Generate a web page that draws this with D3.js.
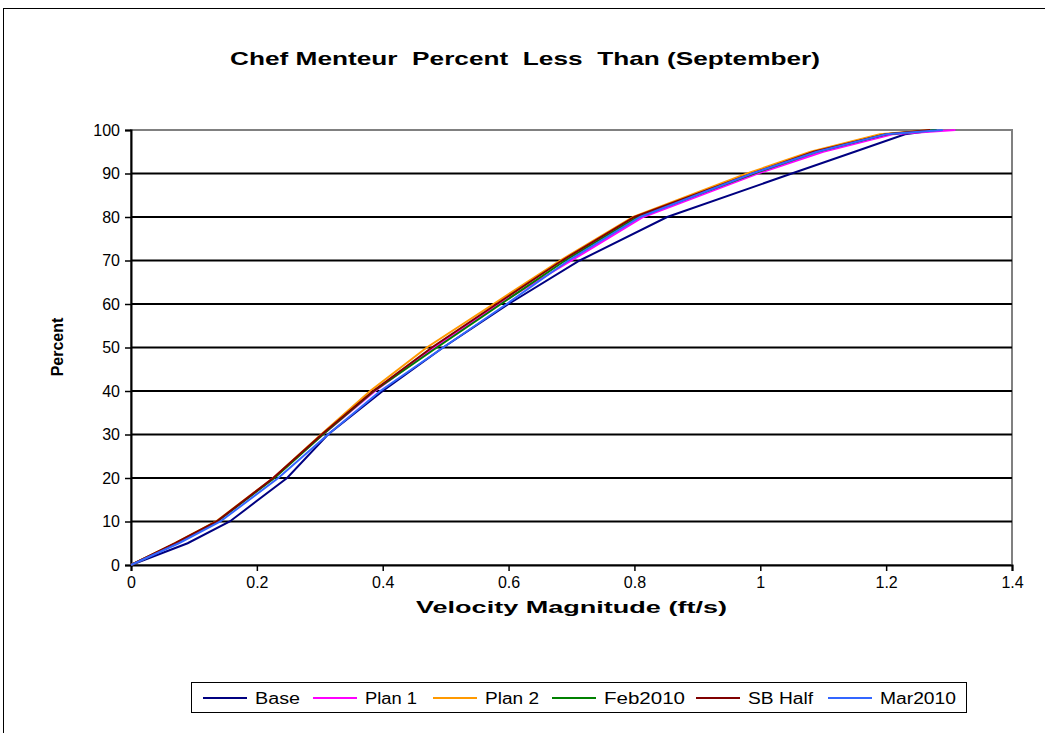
<!DOCTYPE html>
<html><head><meta charset="utf-8">
<script src="https://cdn.jsdelivr.net/npm/d3@7"></script>
<style>body{margin:0;background:#fff;} svg{display:block;font-family:"Liberation Sans",Arial,sans-serif;} text{white-space:pre;}</style>
</head><body><svg id="c" width="1045" height="733"></svg>
<script>
const percents = [0,5,10,20,30,40,50,60,70,80,90,95,99,100];
const baseV   = [0,0.090,0.157,0.248,0.313,0.400,0.496,0.600,0.713,0.852,1.050,1.150,1.230,1.280];
const plan1V  = [0,0.072,0.137,0.226,0.305,0.388,0.482,0.585,0.700,0.814,0.996,1.100,1.210,1.310];
const plan2V  = [0,0.070,0.135,0.226,0.302,0.380,0.470,0.576,0.682,0.798,0.979,1.080,1.190,1.270];
const feb2010V= [0,0.072,0.137,0.228,0.305,0.386,0.486,0.588,0.690,0.805,0.990,1.090,1.200,1.280];
const sbHalfV = [0,0.070,0.136,0.226,0.303,0.385,0.478,0.581,0.685,0.800,0.987,1.085,1.200,1.270];
const mar2010V= [0,0.076,0.142,0.234,0.313,0.396,0.496,0.597,0.695,0.809,0.987,1.090,1.200,1.290];
const seriesNames = ["Base","Plan 1","Plan 2","Feb2010","SB Half","Mar2010"];
const seriesVals = [baseV,plan1V,plan2V,feb2010V,sbHalfV,mar2010V];
const seriesColors = ["#000080","#FF00FF","#FF9900","#008000","#800000","#3366FF"];
const xTicks = [0,0.2,0.4,0.6,0.8,1,1.2,1.4];
const yTicks = [0,10,20,30,40,50,60,70,80,90,100];

const svg = d3.select("#c");
svg.append("rect").attr("x",3.5).attr("y",8.5).attr("width",1050).attr("height",740)
  .attr("fill","#fff").attr("stroke","#000").attr("stroke-width",1);

const L=131,R=1012,T=130,B=565;
const x = d3.scaleLinear().domain([0,1.4]).range([L,R]);
const y = d3.scaleLinear().domain([0,100]).range([B,T]);

svg.append("rect").attr("x",L).attr("y",T).attr("width",R-L).attr("height",B-T)
  .attr("fill","#fff").attr("stroke","#808080").attr("stroke-width",2);
svg.append("g").selectAll("line").data(yTicks.filter(d=>d>0&&d<100)).join("line")
  .attr("x1",L).attr("x2",R).attr("y1",d=>y(d)).attr("y2",d=>y(d))
  .attr("stroke","#000").attr("stroke-width",2);

const yAxis = svg.append("g").attr("transform",`translate(${L},0)`)
  .call(d3.axisLeft(y).tickValues(yTicks).tickSize(6).tickPadding(5).tickFormat(d3.format("d")));
const xAxis = svg.append("g").attr("transform",`translate(0,${B})`)
  .call(d3.axisBottom(x).tickValues(xTicks).tickSize(6).tickPadding(6).tickFormat(d=>String(d)));
[yAxis,xAxis].forEach(a=>{
  a.select(".domain").attr("stroke","#000").attr("stroke-width",2);
  a.selectAll(".tick line").attr("stroke","#000").attr("stroke-width",1.5);
  a.selectAll("text").attr("fill","#000").style("font-size","16px").style("font-family","Liberation Sans, Arial, sans-serif");
});

const line = d3.line().x(d=>x(d[0])).y(d=>y(d[1]));
seriesVals.forEach((vals,i)=>{
  svg.append("path").datum(vals.map((v,j)=>[v,percents[j]]))
    .attr("d",line).attr("fill","none").attr("stroke",seriesColors[i]).attr("stroke-width",2);
});

svg.append("text").attr("x",230).attr("y",65)
  .attr("textLength",590).attr("lengthAdjust","spacingAndGlyphs")
  .style("font-weight","bold").style("font-size","19px").text("Chef Menteur  Percent  Less  Than (September)");
svg.append("text").attr("x",416).attr("y",613)
  .attr("textLength",311).attr("lengthAdjust","spacingAndGlyphs")
  .style("font-weight","bold").style("font-size","17px").text("Velocity Magnitude (ft/s)");
svg.append("text").attr("transform","translate(63,347) rotate(-90)").attr("text-anchor","middle")
  .style("font-weight","bold").style("font-size","16px").text("Percent");

const lg = svg.append("g");
lg.append("rect").attr("x",191.5).attr("y",682.5).attr("width",775).attr("height",30)
  .attr("fill","#fff").attr("stroke","#000").attr("stroke-width",1);
const textX = [255,365,485,604,748,880];
const textW = [45,52,54,81,65,76];
seriesNames.forEach((n,i)=>{
  lg.append("line").attr("x1",textX[i]-52).attr("x2",textX[i]-8).attr("y1",698).attr("y2",698)
    .attr("stroke",seriesColors[i]).attr("stroke-width",2);
  lg.append("text").attr("x",textX[i]).attr("y",704).attr("textLength",textW[i])
    .attr("lengthAdjust","spacingAndGlyphs").style("font-size","16px").text(n);
});
</script></body></html>
